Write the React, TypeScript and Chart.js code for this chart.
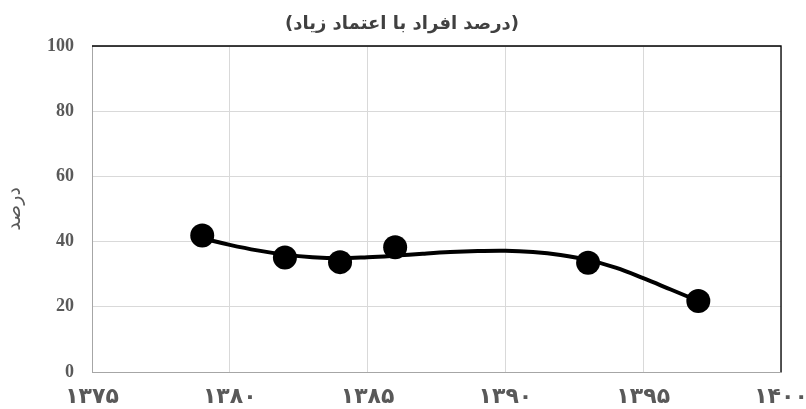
import React, { useEffect, useRef } from 'react';
import { Chart, registerables } from 'chart.js';

Chart.register(...registerables);

const chartTitle = '(درصد افراد با اعتماد زیاد)';
const yAxisTitle = 'درصد';

const pointYears = [1379, 1382, 1384, 1386, 1393, 1397];
const pointValues = [41.9, 35.1, 33.7, 38.3, 33.5, 21.8];

const trendYears = [1379, 1380, 1381, 1382, 1383, 1384, 1385, 1386, 1387, 1388, 1389, 1390, 1391, 1392, 1393, 1394, 1395, 1396, 1397];
const trendValues = [41.0, 39.0, 37.3, 36.0, 35.2, 34.9, 35.2, 35.7, 36.3, 36.8, 37.1, 37.2, 36.8, 35.9, 34.4, 32.0, 28.8, 25.3, 21.8];

const xTickValues = [1375, 1380, 1385, 1390, 1395, 1400];
const xTickLabels = ['۱۳۷۵', '۱۳۸۰', '۱۳۸۵', '۱۳۹۰', '۱۳۹۵', '۱۴۰۰'];
const yTickValues = [0, 20, 40, 60, 80, 100];

const frameAndTitle = {
  id: 'frameAndTitle',
  afterDraw(chart: any) {
    const { ctx, chartArea } = chart;
    ctx.save();
    ctx.strokeStyle = '#000000';
    ctx.lineWidth = 1.3;
    ctx.beginPath();
    ctx.moveTo(chartArea.left, chartArea.top);
    ctx.lineTo(chartArea.right, chartArea.top);
    ctx.lineTo(chartArea.right, chartArea.bottom);
    ctx.stroke();
    ctx.fillStyle = '#404040';
    ctx.font = 'bold 18px "DejaVu Sans"';
    ctx.textAlign = 'center';
    ctx.textBaseline = 'middle';
    ctx.fillText(chartTitle, 402, 24);
    ctx.restore();
  },
};

export default function App() {
  const canvasRef = useRef<HTMLCanvasElement | null>(null);

  useEffect(() => {
    if (!canvasRef.current) return;
    const chart = new Chart(canvasRef.current, {
      type: 'scatter',
      data: {
        datasets: [
          {
            type: 'scatter',
            data: pointYears.map((x, i) => ({ x, y: pointValues[i] })),
            pointRadius: 12,
            pointHoverRadius: 12,
            backgroundColor: '#000000',
            borderColor: '#000000',
            borderWidth: 0,
          },
          {
            type: 'line',
            data: trendYears.map((x, i) => ({ x, y: trendValues[i] })),
            borderColor: '#000000',
            borderWidth: 4,
            pointRadius: 0,
            tension: 0.4,
            fill: false,
          } as any,
        ],
      },
      options: {
        responsive: false,
        maintainAspectRatio: false,
        animation: false,
        layout: { padding: { top: 46, right: 59, bottom: 0, left: 0 } },
        plugins: {
          legend: { display: false },
          tooltip: { enabled: false },
          title: { display: false },
        },
        scales: {
          x: {
            type: 'linear',
            min: 1375,
            max: 1400,
            afterBuildTicks: (scale: any) => {
              scale.ticks = xTickValues.map((v) => ({ value: v }));
            },
            ticks: {
              callback: (v: any) => {
                const i = xTickValues.indexOf(Number(v));
                return i >= 0 ? xTickLabels[i] : '';
              },
              color: '#595959',
              font: { family: 'DejaVu Sans', size: 22, weight: 'bold' },
              padding: 12,
              maxRotation: 0,
              autoSkip: false,
            },
            grid: { color: '#d9d9d9', drawTicks: false },
            border: { color: '#a6a6a6' },
            afterFit: (scale: any) => {
              scale.height = 37;
            },
          },
          y: {
            type: 'linear',
            min: 0,
            max: 100,
            afterBuildTicks: (scale: any) => {
              scale.ticks = yTickValues.map((v) => ({ value: v }));
            },
            ticks: {
              color: '#595959',
              font: { family: 'Liberation Serif', size: 18, weight: 'bold' },
              padding: 18,
            },
            grid: { color: '#d9d9d9', drawTicks: false },
            border: { color: '#a6a6a6' },
            title: {
              display: true,
              text: yAxisTitle,
              color: '#595959',
              font: { family: 'DejaVu Sans', size: 19, weight: 'normal' },
              padding: { top: 4, bottom: 0 },
            },
            afterFit: (scale: any) => {
              scale.width = 92;
            },
          },
        },
      },
      plugins: [frameAndTitle],
    });
    return () => chart.destroy();
  }, []);

  return (
    <div style={{ position: 'fixed', left: 0, top: 0, width: 806, height: 409, overflow: 'hidden', background: '#ffffff' }}>
      <canvas ref={canvasRef} width={840} height={409} style={{ display: 'block' }} />
    </div>
  );
}
